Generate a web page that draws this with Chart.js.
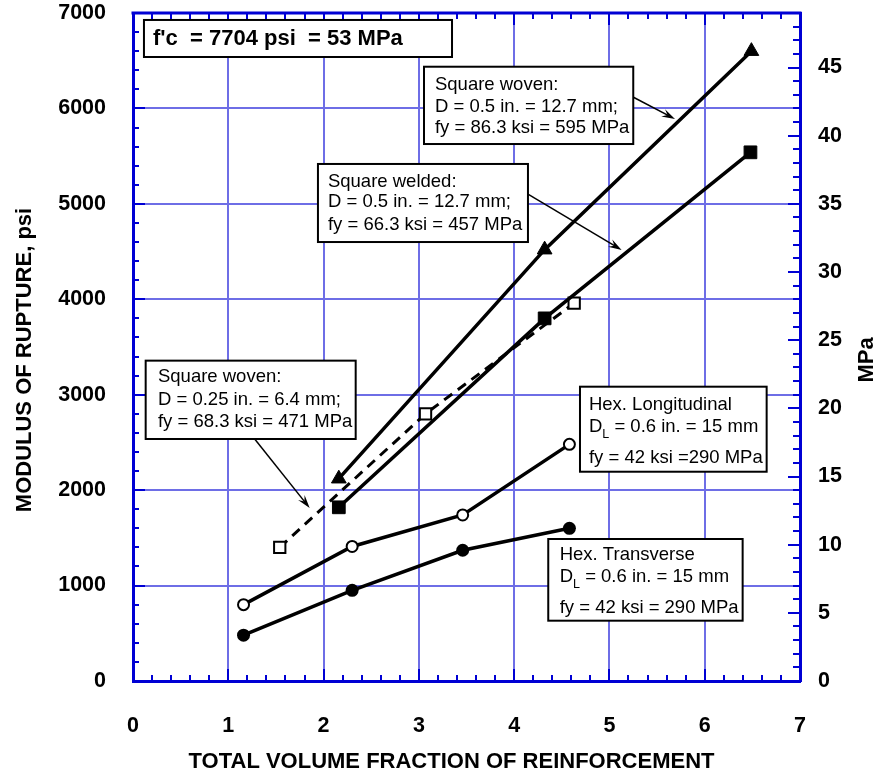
<!DOCTYPE html>
<html>
<head>
<meta charset="utf-8">
<script src="https://cdn.jsdelivr.net/npm/chart.js@4/dist/chart.umd.min.js"></script>
<style>
  body { margin: 0; background: #fff; }
  #wrap { width: 882px; height: 776px; }
</style>
</head>
<body>
<div id="wrap"><canvas id="mor" width="882" height="776"></canvas></div>
<script>
// values (x = total volume fraction, y = modulus of rupture in psi)
const hexTransX = [1.16, 2.30, 3.46, 4.58];
const hexTransY = [480, 950, 1370, 1600];
const hexLongX = [1.16, 2.30, 3.46, 4.58];
const hexLongY = [800, 1410, 1740, 2480];
const woven25X = [1.54, 3.07, 4.63];
const woven25Y = [1400, 2800, 3960];
const weldedX = [2.16, 4.32, 6.48];
const weldedY = [1820, 3800, 5540];
const woven50X = [2.16, 4.32, 6.49];
const woven50Y = [2120, 4520, 6600];

const xTicks = [0, 1, 2, 3, 4, 5, 6, 7];
const psiTicks = [0, 1000, 2000, 3000, 4000, 5000, 6000, 7000];
const mpaTicks = [0, 5, 10, 15, 20, 25, 30, 35, 40, 45];

const FONT = "'Liberation Sans', Arial, Helvetica, sans-serif";
const AXIS = '#0000d4';
const GRID = '#6e6ee6';

function pts(xs, ys) {
    return xs.map((x, i) => ({ x: x, y: ys[i] }));
}

// text boxes, placed in data units so they follow the scales
const notes = [
    { box: [0.115, 6927, 3.348, 6539], bold: true, size: 22, tx: 0.21,
      lines: [{ y: 6733, segs: [{ t: "f'c  = 7704 psi  = 53 MPa" }] }] },
    { box: [3.054, 6437, 5.250, 5627], tx: 3.169,
      lines: [{ y: 6246, segs: [{ t: 'Square woven:' }] },
              { y: 6015, segs: [{ t: 'D = 0.5 in. = 12.7 mm;' }] },
              { y: 5795, segs: [{ t: 'fy = 86.3 ksi = 595 MPa' }] }] },
    { box: [1.941, 5418, 4.145, 4600], tx: 2.046,
      lines: [{ y: 5229, segs: [{ t: 'Square welded:' }] },
              { y: 5019, segs: [{ t: 'D = 0.5 in. = 12.7 mm;' }] },
              { y: 4779, segs: [{ t: 'fy = 66.3 ksi = 457 MPa' }] }] },
    { box: [0.133, 3357, 2.337, 2536], tx: 0.262,
      lines: [{ y: 3189, segs: [{ t: 'Square woven:' }] },
              { y: 2945, segs: [{ t: 'D = 0.25 in. = 6.4 mm;' }] },
              { y: 2717, segs: [{ t: 'fy = 68.3 ksi = 471 MPa' }] }] },
    { box: [4.691, 3084, 6.650, 2193], tx: 4.785,
      lines: [{ y: 2892, segs: [{ t: 'Hex. Longitudinal' }] },
              { y: 2662, segs: [{ t: 'D' }, { t: 'L', sub: true }, { t: ' = 0.6 in. = 15 mm' }] },
              { y: 2337, segs: [{ t: 'fy = 42 ksi =290 MPa' }] }] },
    { box: [4.358, 1488, 6.398, 632], tx: 4.478,
      lines: [{ y: 1320, segs: [{ t: 'Hex. Transverse' }] },
              { y: 1093, segs: [{ t: 'D' }, { t: 'L', sub: true }, { t: ' = 0.6 in. = 15 mm' }] },
              { y: 762, segs: [{ t: 'fy = 42 ksi = 290 MPa' }] }] }
];

const arrows = [
    { from: [5.247, 6120], to: [5.688, 5889] },
    { from: [4.145, 5103], to: [5.128, 4517] },
    { from: [1.277, 2536], to: [1.854, 1813] }
];

function seg(ctx, x0, y0, x1, y1) {
    ctx.beginPath();
    ctx.moveTo(x0, y0);
    ctx.lineTo(x1, y1);
    ctx.stroke();
}

function rotatedText(ctx, text, x, y) {
    ctx.save();
    ctx.translate(x, y);
    ctx.rotate(-Math.PI / 2);
    ctx.fillText(text, 0, 0);
    ctx.restore();
}

const frame = {
    id: 'frame',
    beforeDatasetsDraw(chart) {
        const { ctx, chartArea: a, scales } = chart;
        const x = scales.x, y = scales.y, y1 = scales.y1;
        ctx.save();
        ctx.strokeStyle = AXIS;
        ctx.lineWidth = 2;
        // minor + major ticks pointing inwards
        for (let i = 0; i <= 35; i++) {
            const px = Math.round(x.getPixelForValue(i * 0.2));
            const len = i % 5 === 0 ? 12 : 6;
            seg(ctx, px, a.bottom, px, a.bottom - len);
            seg(ctx, px, a.top, px, a.top + len);
        }
        for (let i = 0; i <= 35; i++) {
            const py = Math.round(y.getPixelForValue(i * 200));
            const len = i % 5 === 0 ? 12 : 6;
            seg(ctx, a.left, py, a.left + len, py);
        }
        for (let i = 0; i <= 49; i++) {
            const py = Math.round(y1.getPixelForValue(i));
            const len = i % 5 === 0 ? 12 : 7;
            seg(ctx, a.right, py, a.right - len, py);
        }
        ctx.lineWidth = 3;
        seg(ctx, a.left - 1.5, a.top, a.right + 1.5, a.top);
        ctx.restore();
    },
    afterDatasetsDraw(chart) {
        const { ctx, chartArea: a, scales } = chart;
        const x = scales.x, y = scales.y;
        ctx.save();

        // arrows
        ctx.strokeStyle = '#000';
        ctx.fillStyle = '#000';
        ctx.lineWidth = 1.5;
        arrows.forEach(ar => {
            const x0 = x.getPixelForValue(ar.from[0]), y0 = y.getPixelForValue(ar.from[1]);
            const x1 = x.getPixelForValue(ar.to[0]), y1 = y.getPixelForValue(ar.to[1]);
            const ang = Math.atan2(y1 - y0, x1 - x0);
            seg(ctx, x0, y0, x1 - 4 * Math.cos(ang), y1 - 4 * Math.sin(ang));
            const L = 14, W = 0.3;
            ctx.beginPath();
            ctx.moveTo(x1, y1);
            ctx.lineTo(x1 - L * Math.cos(ang - W), y1 - L * Math.sin(ang - W));
            ctx.lineTo(x1 - 0.6 * L * Math.cos(ang), y1 - 0.6 * L * Math.sin(ang));
            ctx.lineTo(x1 - L * Math.cos(ang + W), y1 - L * Math.sin(ang + W));
            ctx.closePath();
            ctx.fill();
        });

        // boxes
        notes.forEach(n => {
            const l = x.getPixelForValue(n.box[0]), t = y.getPixelForValue(n.box[1]);
            const r = x.getPixelForValue(n.box[2]), b = y.getPixelForValue(n.box[3]);
            ctx.fillStyle = '#fff';
            ctx.fillRect(l, t, r - l, b - t);
            ctx.strokeStyle = '#000';
            ctx.lineWidth = 2;
            ctx.strokeRect(l, t, r - l, b - t);
            ctx.fillStyle = '#000';
            ctx.textBaseline = 'middle';
            ctx.textAlign = 'left';
            const size = n.size || 18.5;
            n.lines.forEach(line => {
                let px = x.getPixelForValue(n.tx);
                const py = y.getPixelForValue(line.y);
                line.segs.forEach(s => {
                    const fs = s.sub ? 12.5 : size;
                    ctx.font = (n.bold ? 'bold ' : '') + fs + 'px ' + FONT;
                    ctx.fillText(s.t, px, s.sub ? py + 8 : py);
                    px += ctx.measureText(s.t).width;
                });
            });
        });

        // axis titles
        const mid = (a.top + a.bottom) / 2 + 13;
        ctx.font = 'bold 22px ' + FONT;
        ctx.textAlign = 'center';
        ctx.textBaseline = 'middle';
        rotatedText(ctx, 'MODULUS OF RUPTURE, psi', 25, mid);
        rotatedText(ctx, 'MPa', 867, mid);
        ctx.fillText('TOTAL VOLUME FRACTION OF REINFORCEMENT', (a.left + a.right) / 2 - 15, 762);
        ctx.restore();
    }
};

const tickFont = { family: FONT, size: 21.5, weight: 'bold' };

// drop the label overflow padding so the plot box fills the canvas like the original
function noOverflow(s) {
    s.paddingTop = 0;
    s.paddingBottom = 0;
    s.paddingLeft = 0;
    s.paddingRight = 0;
}

new Chart(document.getElementById('mor'), {
    type: 'scatter',
    data: {
        datasets: [
            {
                label: 'Square woven 0.5 in.',
                data: pts(woven50X, woven50Y),
                showLine: true,
                borderColor: '#000',
                backgroundColor: '#000',
                borderWidth: 3.5,
                pointStyle: 'triangle',
                pointRadius: 8.5,
                pointBorderWidth: 1
            },
            {
                label: 'Square welded 0.5 in.',
                data: pts(weldedX, weldedY),
                showLine: true,
                borderColor: '#000',
                backgroundColor: '#000',
                borderWidth: 3.5,
                pointStyle: 'rect',
                pointRadius: 9,
                pointBorderWidth: 1
            },
            {
                label: 'Square woven 0.25 in.',
                data: pts(woven25X, woven25Y),
                showLine: true,
                borderColor: '#000',
                borderDash: [10, 7],
                borderWidth: 3,
                pointStyle: 'rect',
                pointRadius: 8,
                pointBackgroundColor: '#fff',
                pointBorderColor: '#000',
                pointBorderWidth: 2
            },
            {
                label: 'Hex. Longitudinal',
                data: pts(hexLongX, hexLongY),
                showLine: true,
                borderColor: '#000',
                borderWidth: 3.5,
                pointStyle: 'circle',
                pointRadius: 5.5,
                pointBackgroundColor: '#fff',
                pointBorderColor: '#000',
                pointBorderWidth: 2
            },
            {
                label: 'Hex. Transverse',
                data: pts(hexTransX, hexTransY),
                showLine: true,
                borderColor: '#000',
                backgroundColor: '#000',
                borderWidth: 3.5,
                pointStyle: 'circle',
                pointRadius: 6.5,
                pointBorderWidth: 0
            }
        ]
    },
    options: {
        responsive: false,
        animation: false,
        layout: { padding: { top: 13, left: 0, right: 0, bottom: 0 } },
        plugins: {
            legend: { display: false },
            tooltip: { enabled: false }
        },
        scales: {
            x: {
                type: 'linear',
                position: 'bottom',
                min: xTicks[0],
                max: xTicks[xTicks.length - 1],
                afterBuildTicks: s => { s.ticks = xTicks.map(v => ({ value: v })); },
                ticks: { color: '#000', font: tickFont, padding: 32, maxRotation: 0, callback: v => String(v) },
                grid: { color: GRID, lineWidth: 2, drawTicks: false },
                border: { color: AXIS, width: 3 },
                afterFit: s => { noOverflow(s); s.height = 95; }
            },
            y: {
                type: 'linear',
                position: 'left',
                min: psiTicks[0],
                max: psiTicks[psiTicks.length - 1],
                afterBuildTicks: s => { s.ticks = psiTicks.map(v => ({ value: v })); },
                ticks: { color: '#000', font: tickFont, padding: 27, callback: v => String(v) },
                grid: { color: GRID, lineWidth: 2, drawTicks: false },
                border: { color: AXIS, width: 3 },
                afterFit: s => { noOverflow(s); s.width = 133; }
            },
            y1: {
                type: 'linear',
                position: 'right',
                min: 0,
                max: 49,
                afterBuildTicks: s => { s.ticks = mpaTicks.map(v => ({ value: v })); },
                ticks: { color: '#000', font: tickFont, padding: 18, callback: v => String(v) },
                grid: { drawOnChartArea: false, drawTicks: false },
                border: { color: AXIS, width: 3 },
                afterFit: s => { noOverflow(s); s.width = 82; }
            }
        }
    },
    plugins: [frame]
});
</script>
</body>
</html>
